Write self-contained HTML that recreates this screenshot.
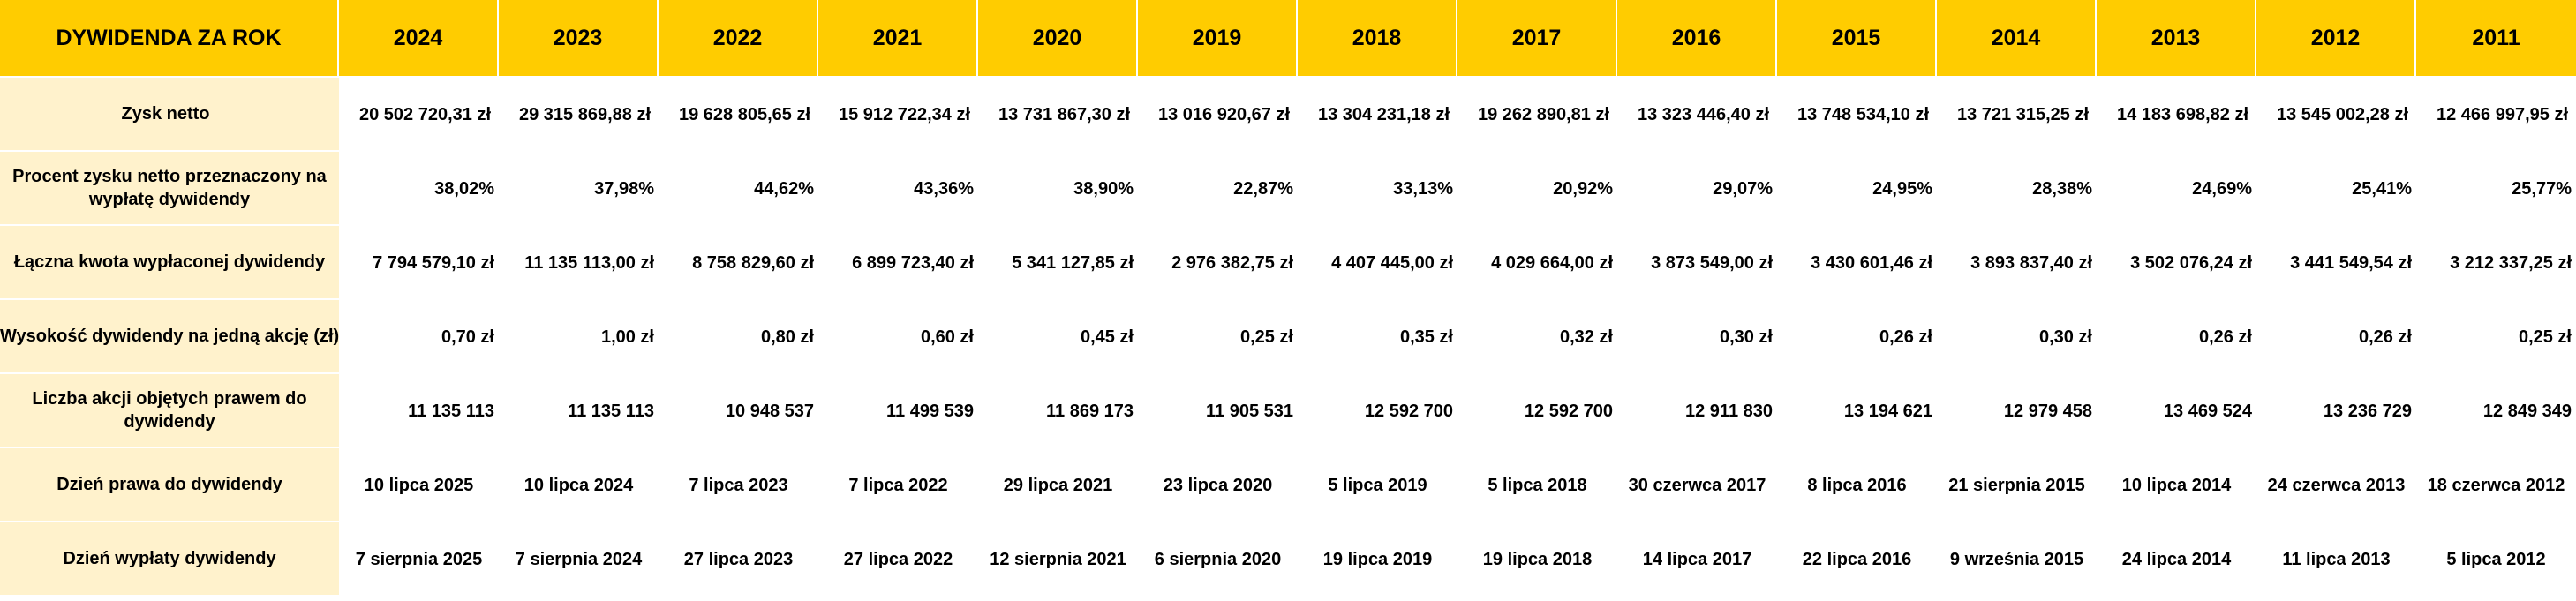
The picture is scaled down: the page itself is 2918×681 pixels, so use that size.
<!DOCTYPE html>
<html><head><meta charset="utf-8"><style>
html,body{margin:0;padding:0;background:#fff;width:2918px;height:681px;overflow:hidden}
table{border-collapse:separate;border-spacing:0;table-layout:fixed;width:2918px;font-family:"Liberation Sans",Arial,sans-serif;font-weight:bold;color:#000}
td,th{padding:0;overflow:hidden;white-space:nowrap}
th{background:#FFCC00;height:88px;font-size:25px;border-right:2px solid #fff;border-bottom:2px solid #fff;box-sizing:border-box}
th:last-child{border-right:none}
td{height:84px;font-size:20px;box-sizing:border-box;text-align:right;padding-right:5px}
td.l{background:#FFF2CC;text-align:center;padding:0;white-space:normal;line-height:26px;border-bottom:2px solid #fff;font-size:20px}
td.n{white-space:nowrap}
tr.c td{text-align:center;padding-right:0}
tr.z td{padding-right:9px}
</style></head><body>
<table>
<colgroup><col style="width:384px"><col span="14" style="width:181px"></colgroup>
<tr><th>DYWIDENDA ZA ROK</th><th>2024</th><th>2023</th><th>2022</th><th>2021</th><th>2020</th><th>2019</th><th>2018</th><th>2017</th><th>2016</th><th>2015</th><th>2014</th><th>2013</th><th>2012</th><th>2011</th></tr>
<tr class="z"><td class="l">Zysk netto</td><td>20 502 720,31 zł</td><td>29 315 869,88 zł</td><td>19 628 805,65 zł</td><td>15 912 722,34 zł</td><td>13 731 867,30 zł</td><td>13 016 920,67 zł</td><td>13 304 231,18 zł</td><td>19 262 890,81 zł</td><td>13 323 446,40 zł</td><td>13 748 534,10 zł</td><td>13 721 315,25 zł</td><td>14 183 698,82 zł</td><td>13 545 002,28 zł</td><td>12 466 997,95 zł</td></tr>
<tr><td class="l">Procent zysku netto przeznaczony na wypłatę dywidendy</td><td>38,02%</td><td>37,98%</td><td>44,62%</td><td>43,36%</td><td>38,90%</td><td>22,87%</td><td>33,13%</td><td>20,92%</td><td>29,07%</td><td>24,95%</td><td>28,38%</td><td>24,69%</td><td>25,41%</td><td>25,77%</td></tr>
<tr><td class="l n">Łączna kwota wypłaconej dywidendy</td><td>7 794 579,10 zł</td><td>11 135 113,00 zł</td><td>8 758 829,60 zł</td><td>6 899 723,40 zł</td><td>5 341 127,85 zł</td><td>2 976 382,75 zł</td><td>4 407 445,00 zł</td><td>4 029 664,00 zł</td><td>3 873 549,00 zł</td><td>3 430 601,46 zł</td><td>3 893 837,40 zł</td><td>3 502 076,24 zł</td><td>3 441 549,54 zł</td><td>3 212 337,25 zł</td></tr>
<tr><td class="l n">Wysokość dywidendy na jedną akcję (zł)</td><td>0,70 zł</td><td>1,00 zł</td><td>0,80 zł</td><td>0,60 zł</td><td>0,45 zł</td><td>0,25 zł</td><td>0,35 zł</td><td>0,32 zł</td><td>0,30 zł</td><td>0,26 zł</td><td>0,30 zł</td><td>0,26 zł</td><td>0,26 zł</td><td>0,25 zł</td></tr>
<tr><td class="l">Liczba akcji objętych prawem do dywidendy</td><td>11 135 113</td><td>11 135 113</td><td>10 948 537</td><td>11 499 539</td><td>11 869 173</td><td>11 905 531</td><td>12 592 700</td><td>12 592 700</td><td>12 911 830</td><td>13 194 621</td><td>12 979 458</td><td>13 469 524</td><td>13 236 729</td><td>12 849 349</td></tr>
<tr class="c"><td class="l">Dzień prawa do dywidendy</td><td>10 lipca 2025</td><td>10 lipca 2024</td><td>7 lipca 2023</td><td>7 lipca 2022</td><td>29 lipca 2021</td><td>23 lipca 2020</td><td>5 lipca 2019</td><td>5 lipca 2018</td><td>30 czerwca 2017</td><td>8 lipca 2016</td><td>21 sierpnia 2015</td><td>10 lipca 2014</td><td>24 czerwca 2013</td><td>18 czerwca 2012</td></tr>
<tr class="c"><td class="l">Dzień wypłaty dywidendy</td><td>7 sierpnia 2025</td><td>7 sierpnia 2024</td><td>27 lipca 2023</td><td>27 lipca 2022</td><td>12 sierpnia 2021</td><td>6 sierpnia 2020</td><td>19 lipca 2019</td><td>19 lipca 2018</td><td>14 lipca 2017</td><td>22 lipca 2016</td><td>9 września 2015</td><td>24 lipca 2014</td><td>11 lipca 2013</td><td>5 lipca 2012</td></tr>
</table>
</body></html>
